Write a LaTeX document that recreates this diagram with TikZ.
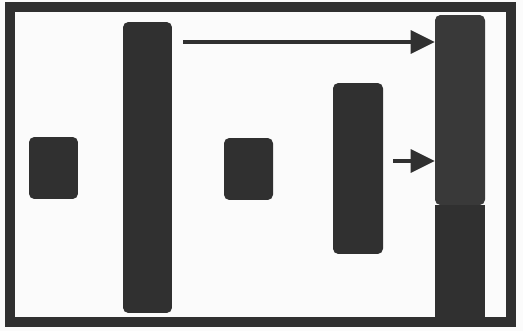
\documentclass[tikz,border=0pt]{standalone}
\usepackage{tikz}
\usetikzlibrary{arrows.meta,positioning}
\definecolor{slab}{HTML}{303030}
\definecolor{slablt}{HTML}{393939}
\definecolor{paper}{HTML}{FBFBFB}
\tikzset{
  blk/.style    = {draw=none, fill=slab, rounded corners=3pt,
                   inner sep=0pt, minimum width=0.98cm},
  blklt/.style  = {blk, fill=slablt},
  blksq/.style  = {blk, rounded corners=0pt},
  frm/.style    = {draw=slab, line width=5.7pt},
  arr/.style    = {-{Triangle[length=4.8mm, width=4.6mm]}, draw=slab,
                   line width=2pt},
}
\begin{document}
\begin{tikzpicture}[x=0.02cm,y=-0.02cm]
  \useasboundingbox[fill=paper] (0,0) rectangle (523,331);
  % blocks
  \node[blk, minimum height=1.24cm] (sqA) at (53.5,168) {};
  \node[blk, minimum height=5.82cm] (barA) at (147.5,167.5) {};
  \node[blk, minimum height=1.24cm] (sqB) at (248.5,169) {};
  \node[blk, minimum width=1.0cm, minimum height=3.42cm] (barB) at (358,168.5) {};
  \node[blksq, minimum width=1.0cm, minimum height=2.4cm] (rlow) at (460,265) {};
  \node[blklt, minimum width=1.0cm, minimum height=3.8cm] (rtop) at (460,110) {};
  % frame
  \draw[frm] (10,7) rectangle (511,322);
  % arrows
  \coordinate (a1) at (183,42);
  \coordinate (a2) at (393,161);
  \draw[arr] (a1) -- (a1 -| rtop.west);
  \draw[arr] (a2) -- (a2 -| rtop.west);
\end{tikzpicture}
\end{document}
